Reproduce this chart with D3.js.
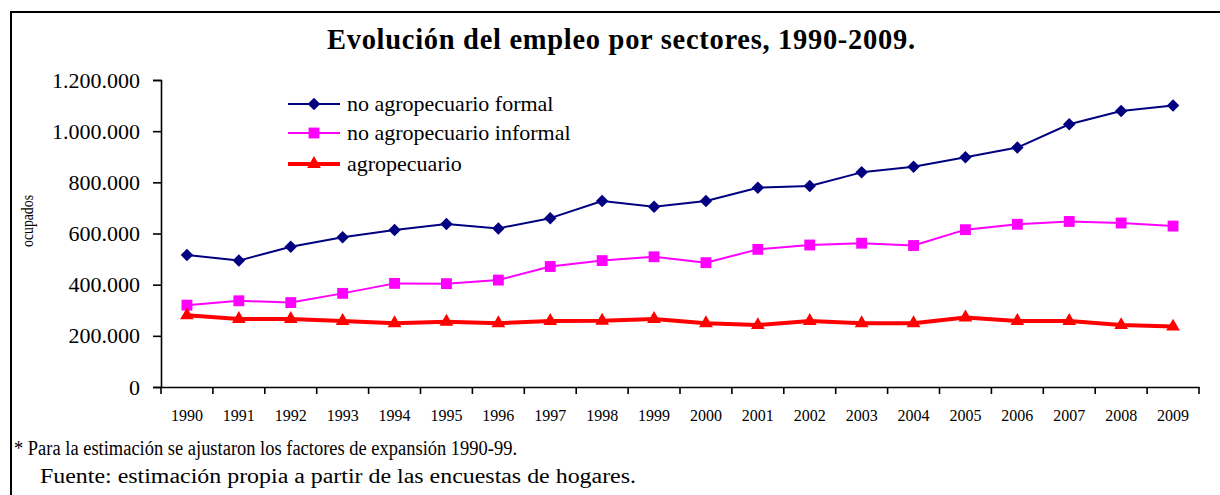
<!DOCTYPE html>
<html><head><meta charset="utf-8">
<script src="https://cdn.jsdelivr.net/npm/d3@7"></script>
<style>
html,body{margin:0;padding:0;background:#fff;}
svg{display:block;font-family:"Liberation Serif","Times New Roman",serif;}
</style></head>
<body>
<svg id="c" width="1220" height="495"></svg>
<script>
const years = ["1990","1991","1992","1993","1994","1995","1996","1997","1998","1999","2000","2001","2002","2003","2004","2005","2006","2007","2008","2009"];
const formal   = [516000,494000,548000,585000,614000,637000,620000,660000,727000,705000,727000,779000,786000,839000,861000,898000,936000,1027000,1079000,1100000];
const informal = [320000,337000,330000,366000,405000,404000,418000,471000,494000,509000,486000,538000,555000,562000,553000,615000,636000,647000,641000,629000];
const agro     = [280000,266000,266000,258000,249000,255000,249000,258000,259000,266000,249000,242000,258000,249000,249000,272000,258000,258000,242000,236000];
const yTicks = [0,200000,400000,600000,800000,1000000,1200000];
const seriesNames = ["no agropecuario formal","no agropecuario informal","agropecuario"];
const titleText = "Evolución del empleo por sectores, 1990-2009.";
const yLabel = "ocupados";
const notes = ["* Para la estimación se ajustaron los factores de expansión 1990-99.","Fuente: estimación propia a partir de las encuestas de hogares."];

const svg = d3.select("#c");
const x = d3.scaleBand().domain(years).range([161,1199]);
const y = d3.scaleLinear().domain([0,1200000]).range([387,80]);
const loc = d3.formatLocale({decimal:",",thousands:".",grouping:[3],currency:["",""]});
const fmt = loc.format(",");
const serif = "'Liberation Serif','Times New Roman',serif";

// outer frame
svg.append("rect").attr("x",11).attr("y",12).attr("width",1240).attr("height",600)
  .attr("fill","none").attr("stroke","#000").attr("stroke-width",2);

// title
svg.append("text").attr("x",621).attr("y",49).attr("text-anchor","middle")
  .attr("font-size",28.5).attr("font-weight","bold")
  .attr("textLength",588).attr("lengthAdjust","spacing").text(titleText);

// y axis
const ya = svg.append("g").attr("transform","translate(161,0)")
  .call(d3.axisLeft(y).tickValues(yTicks).tickFormat(fmt).tickSize(8).tickPadding(13));
ya.attr("font-family",serif);
ya.selectAll("text").attr("font-size",22).attr("fill","#000");
ya.selectAll("line,path").attr("stroke","#000").attr("stroke-width",1.6);

// x axis
const xa = svg.append("g").attr("transform","translate(0,387)")
  .call(d3.axisBottom(x).tickSize(0).tickPadding(22.5));
xa.attr("font-family",serif);
xa.selectAll("text").attr("font-size",16).attr("fill","#000");
xa.selectAll("path").attr("stroke","#000").attr("stroke-width",1.6);
const bounds = years.map(d=>x(d)).concat([x.range()[1]]);
xa.selectAll("line.bt").data(bounds).enter().append("line").attr("class","bt")
  .attr("x1",d=>d).attr("x2",d=>d).attr("y1",0).attr("y2",7)
  .attr("stroke","#000").attr("stroke-width",1.6);

// y label
svg.append("text").attr("transform","translate(33,221) rotate(-90)")
  .attr("text-anchor","middle").attr("font-size",17)
  .attr("textLength",52).attr("lengthAdjust","spacingAndGlyphs").text(yLabel);

// series
const cx = d=>x(d)+x.bandwidth()/2;
const series = [
  {vals:formal, color:"#000080", w:2, sym:d3.symbolSquare, size:78, rot:45},
  {vals:informal, color:"#FF00FF", w:2, sym:d3.symbolSquare, size:118, rot:0},
  {vals:agro, color:"#FF0000", w:4, sym:d3.symbolTriangle, size:82, rot:0}
];
const line = d3.line().x((d,i)=>cx(years[i])).y(d=>y(d));
series.forEach(s=>{
  svg.append("path").datum(s.vals).attr("d",line).attr("fill","none")
    .attr("stroke",s.color).attr("stroke-width",s.w).attr("stroke-linejoin","round");
  svg.append("g").selectAll("path").data(s.vals).enter().append("path")
    .attr("d",d3.symbol().type(s.sym).size(s.size))
    .attr("transform",(d,i)=>`translate(${cx(years[i])},${y(d)}) rotate(${s.rot})`)
    .attr("fill",s.color);
});

// legend
const legY = [104,133,164];
series.forEach((s,i)=>{
  const g = svg.append("g").attr("transform",`translate(0,${legY[i]})`);
  g.append("line").attr("x1",288).attr("x2",340).attr("y1",0).attr("y2",0)
    .attr("stroke",s.color).attr("stroke-width",s.w);
  g.append("path").attr("d",d3.symbol().type(s.sym).size(s.size))
    .attr("transform",`translate(314,0) rotate(${s.rot})`).attr("fill",s.color);
  g.append("text").attr("x",347).attr("y",0).attr("dy","0.32em").attr("font-size",22).text(seriesNames[i]);
});

// notes
svg.append("text").attr("x",14).attr("y",455).attr("font-size",20)
  .attr("textLength",503).attr("lengthAdjust","spacingAndGlyphs").text(notes[0]);
svg.append("text").attr("x",40).attr("y",483).attr("font-size",20)
  .attr("textLength",596).attr("lengthAdjust","spacingAndGlyphs").text(notes[1]);
</script>
</body></html>
